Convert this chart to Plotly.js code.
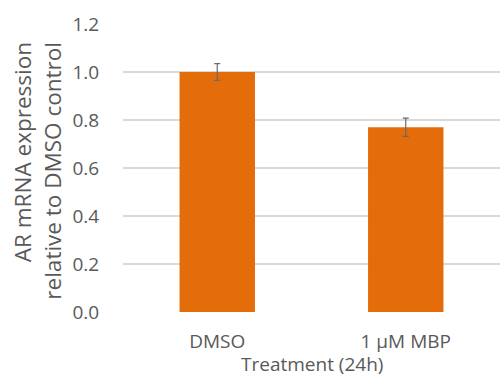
<!DOCTYPE html>
<html><head><meta charset="utf-8">
<script src="https://cdn.plot.ly/plotly-3.0.1.min.js"></script>
<style>html,body{margin:0;padding:0;background:#fff}#c{width:500px;height:377px}</style>
</head><body><div id="c"></div>
<script>
const categories = ["DMSO", "1 \u00b5M MBP"];
const values = [1.0, 0.77];
const errors = [0.035, 0.038];
const yTicks = [0, 0.2, 0.4, 0.6, 0.8, 1.0, 1.2];
const yTickLabels = ["0.0", "0.2", "0.4", "0.6", "0.8", "1.0", "1.2"];

const font = "Open Sans, Liberation Sans, sans-serif";
const grey = "#595959";

Plotly.newPlot("c", [{
  type: "bar", x: categories, y: values,
  marker: {color: "#E46C0A"},
  error_y: {type: "data", array: errors, visible: true, color: "#6a6a6a", thickness: 1.2, width: 3}
}], {
  width: 500, height: 377,
  margin: {l: 123, r: 0, t: 24, b: 65},
  bargap: 0.6,
  showlegend: false,
  paper_bgcolor: "#fff", plot_bgcolor: "#fff",
  font: {family: font, color: grey},
  xaxis: {
    type: "category", showgrid: false, zeroline: false, showline: false,
    ticks: "outside", ticklen: 12, tickcolor: "rgba(0,0,0,0)",
    tickfont: {size: 19, color: grey, family: font}
  },
  yaxis: {
    range: [0, 1.2], tickvals: yTicks, ticktext: yTickLabels,
    showgrid: true, gridcolor: "#d9d9d9", gridwidth: 1.5, zeroline: false, showline: false,
    ticks: "outside", ticklen: 19, tickcolor: "rgba(0,0,0,0)",
    tickfont: {size: 19, color: grey, family: font}
  },
  annotations: [{
    text: "AR mRNA expression<br>relative to DMSO control",
    textangle: -90, xref: "paper", yref: "paper", x: -0.228, y: 0.491,
    xanchor: "center", yanchor: "middle", align: "right", showarrow: false,
    font: {size: 22.5, color: grey, family: font}
  }, {
    text: "Treatment (24h)",
    xref: "paper", yref: "paper", x: 0.5, y: -0.18,
    xanchor: "center", yanchor: "middle", showarrow: false, borderpad: 0,
    font: {size: 19, color: grey, family: font}
  }]
}, {displayModeBar: false, staticPlot: true});
</script></body></html>
